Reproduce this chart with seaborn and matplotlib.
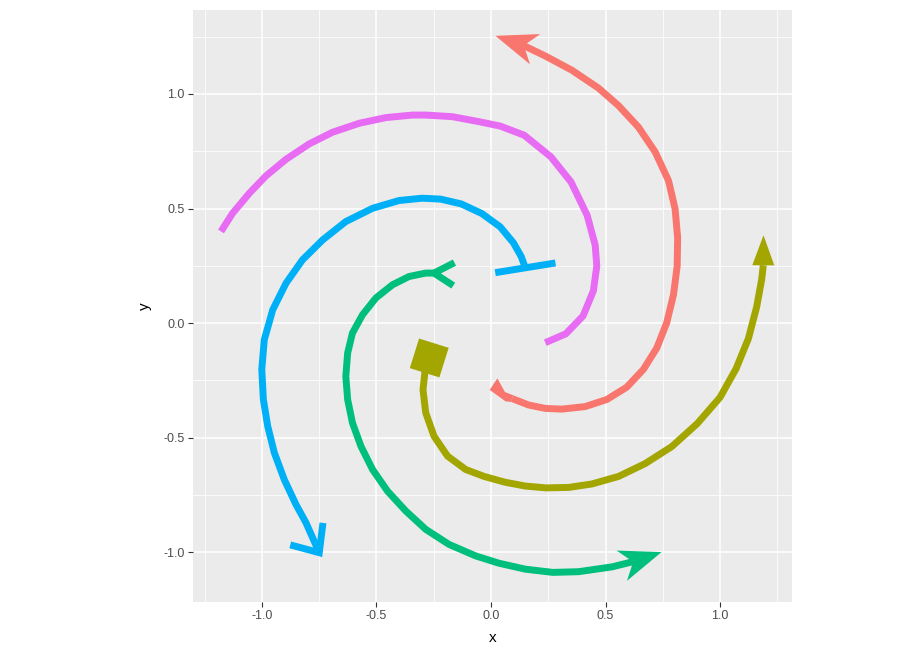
import numpy as np
import pandas as pd
import matplotlib
matplotlib.use("Agg")
import matplotlib.pyplot as plt
import seaborn as sns
from matplotlib.patches import Polygon

# ---------------- data ----------------
groups = ["1", "2", "3", "4", "5"]
palette = ["#F8766D", "#A3A500", "#00BF7D", "#00B0F6", "#E76BF3"]

red_x = [0.092, 0.164, 0.237, 0.310, 0.411, 0.506, 0.593, 0.666, 0.724, 0.767,
         0.797, 0.813, 0.815, 0.804, 0.775, 0.717, 0.644, 0.557, 0.469, 0.353,
         0.237, 0.135]
red_y = [-0.330, -0.358, -0.373, -0.376, -0.365, -0.334, -0.280, -0.202, -0.109, 0.000,
         0.124, 0.249, 0.373, 0.498, 0.622, 0.747, 0.855, 0.949, 1.026, 1.104,
         1.166, 1.215]

olive_x = [-0.288, -0.297, -0.285, -0.249, -0.190, -0.110, -0.030, 0.060, 0.150, 0.240,
           0.339, 0.440, 0.557, 0.673, 0.789, 0.900, 1.000, 1.070, 1.124, 1.160,
           1.182, 1.189]
olive_y = [-0.211, -0.291, -0.392, -0.494, -0.581, -0.640, -0.670, -0.695, -0.712, -0.720,
           -0.718, -0.703, -0.670, -0.614, -0.540, -0.440, -0.325, -0.200, -0.068, 0.070,
           0.190, 0.252]

green_x = [-0.249, -0.285, -0.358, -0.430, -0.503, -0.561, -0.605, -0.626, -0.634, -0.626,
           -0.605, -0.568, -0.517, -0.452, -0.372, -0.285, -0.183, -0.067, 0.035, 0.150,
           0.270, 0.382, 0.528, 0.629]
green_y = [0.218, 0.218, 0.203, 0.167, 0.109, 0.036, -0.044, -0.131, -0.233, -0.334,
           -0.436, -0.538, -0.640, -0.734, -0.821, -0.901, -0.967, -1.017, -1.049, -1.075,
           -1.089, -1.086, -1.065, -1.040]

cyan_x = [0.150, 0.132, 0.098, 0.040, -0.040, -0.130, -0.220, -0.300, -0.401, -0.517,
          -0.634, -0.735, -0.823, -0.895, -0.953, -0.990, -1.001, -0.994, -0.975, -0.946,
          -0.903, -0.852, -0.808, -0.750]
cyan_y = [0.241, 0.290, 0.350, 0.420, 0.478, 0.520, 0.541, 0.545, 0.535, 0.501,
          0.443, 0.363, 0.276, 0.174, 0.058, -0.073, -0.203, -0.334, -0.451, -0.567,
          -0.683, -0.792, -0.872, -1.003]

magenta_x = [0.237, 0.327, 0.402, 0.447, 0.462, 0.455, 0.420, 0.350, 0.262, 0.145,
             0.040, -0.052, -0.169, -0.285, -0.343, -0.459, -0.576, -0.692, -0.794, -0.895,
             -0.983, -1.055, -1.128, -1.179]
magenta_y = [-0.086, -0.047, 0.031, 0.140, 0.249, 0.340, 0.470, 0.615, 0.725, 0.820,
             0.860, 0.879, 0.901, 0.908, 0.908, 0.897, 0.872, 0.833, 0.782, 0.715,
             0.642, 0.567, 0.480, 0.400]

major_ticks = [-1.0, -0.5, 0.0, 0.5, 1.0]
tick_labels = ["-1.0", "-0.5", "0.0", "0.5", "1.0"]
minor_x = [-1.25, -0.75, -0.25, 0.25, 0.75, 1.25]
minor_y = [-0.75, -0.25, 0.25, 0.75, 1.25]

xs = [red_x, olive_x, green_x, cyan_x, magenta_x]
ys = [red_y, olive_y, green_y, cyan_y, magenta_y]
frames = []
for g, x, y in zip(groups, xs, ys):
    frames.append(pd.DataFrame({"x": x, "y": y, "group": g}))
df = pd.concat(frames, ignore_index=True)

# ---------------- figure ----------------
plt.rcParams["font.family"] = ["Liberation Sans", "DejaVu Sans"]
plt.rcParams["axes.unicode_minus"] = False

W, H = 924, 660
fig = plt.figure(figsize=(W / 100, H / 100), dpi=100)
fig.patch.set_facecolor("white")
x0, x1, y0, y1 = 193, 792, 10, 602
ax = fig.add_axes([x0 / W, 1 - y1 / H, (x1 - x0) / W, (y1 - y0) / H])
ax.set_facecolor("#EBEBEB")

XLIM = (-1.3013, 1.3144)
YLIM = (-1.2183, 1.3668)

ax.set_xticks(major_ticks)
ax.set_yticks(major_ticks)
ax.set_xticks(minor_x, minor=True)
ax.set_yticks(minor_y, minor=True)
ax.grid(which="major", color="white", linewidth=1.1)
ax.grid(which="minor", color="white", linewidth=0.55)
ax.set_axisbelow(True)

LW = 5.0
sns.lineplot(data=df, x="x", y="y", hue="group", palette=palette, sort=False,
             estimator=None, units="group", linewidth=LW, legend=False, ax=ax,
             solid_capstyle="butt", solid_joinstyle="round")

ax.set_xlim(XLIM)
ax.set_ylim(YLIM)
ax.set_autoscale_on(False)

T = ax.transData
Ti = T.inverted()


def unit(v):
    return v / np.hypot(*v)


def rot(v, deg):
    a = np.radians(deg)
    return np.array([v[0] * np.cos(a) - v[1] * np.sin(a), v[0] * np.sin(a) + v[1] * np.cos(a)])


def end_frame(x, y, start=False, turn=0.0):
    if start:
        p = T.transform((x[0], y[0]))
        q = T.transform((x[1], y[1]))
    else:
        p = T.transform((x[-1], y[-1]))
        q = T.transform((x[-2], y[-2]))
    u = rot(unit(p - q), turn)
    n = np.array([u[1], -u[0]])
    return p, u, n


def add_poly(pts_disp, color):
    pts = Ti.transform(np.array(pts_disp))
    ax.add_patch(Polygon(pts, closed=True, facecolor=color, edgecolor="none", zorder=3))


def add_line(pts_disp, color):
    pts = Ti.transform(np.array(pts_disp))
    ax.plot(pts[:, 0], pts[:, 1], color=color, linewidth=LW, solid_capstyle="butt",
            solid_joinstyle="miter", zorder=3)


def wing(x, y, color, turn):
    p, u, n = end_frame(x, y, turn=turn)
    add_poly([p + 28 * u, p - 14 * u + 16 * n, p - 2 * u, p - 14 * u - 16 * n], color)


# red: wing head at end, small fin at start
wing(red_x, red_y, palette[0], 7)
p, v, n = end_frame(red_x, red_y, start=True)
add_poly([p + 24 * v, p + 21 * v + 13.5 * n, p + 9 * v + 3.5 * n, p + 3.5 * n,
          p - 3.5 * n, p + 5 * v - 5 * n], palette[0])

# olive: triangle head at end, square at start
p, u, n = end_frame(olive_x, olive_y, turn=6)
add_poly([p + 30 * u, p + 11 * n, p - 11 * n], palette[1])
p, v, n = end_frame(olive_x, olive_y, start=True, turn=-11)
c = p + 14 * v
add_poly([c + 15.5 * v + 15.5 * n, c + 15.5 * v - 15.5 * n,
          c - 15.5 * v - 15.5 * n, c - 15.5 * v + 15.5 * n], palette[1])

# green: wing head at end, V fins at start
wing(green_x, green_y, palette[2], 5)
p, v, n = end_frame(green_x, green_y, start=True, turn=-3)
add_line([p + 23 * rot(v, 30), p, p + 23 * rot(v, -30)], palette[2])

# cyan: open line head at end, T bar at start
p, u, n = end_frame(cyan_x, cyan_y, turn=10)
add_line([p - 30 * rot(u, 41), p, p - 30 * rot(u, -41)], palette[3])
p, v, n = end_frame(cyan_x, cyan_y, start=True, turn=-11)
add_line([p - 30.5 * n, p + 30.5 * n], palette[3])

ax.set_xlim(XLIM)
ax.set_ylim(YLIM)

ax.set_xticklabels(tick_labels)
ax.set_yticklabels(tick_labels)
for s in ax.spines.values():
    s.set_visible(False)
ax.tick_params(which="major", length=3.5, width=0.8, color="#333333",
               labelcolor="#4D4D4D", labelsize=9, pad=2.5)
ax.tick_params(which="minor", length=0)
ax.set_xlabel("x", fontsize=11, color="black", labelpad=6.5)
ax.set_ylabel("y", fontsize=11, color="black", labelpad=8.5)

fig.savefig("out.png", dpi=100)
